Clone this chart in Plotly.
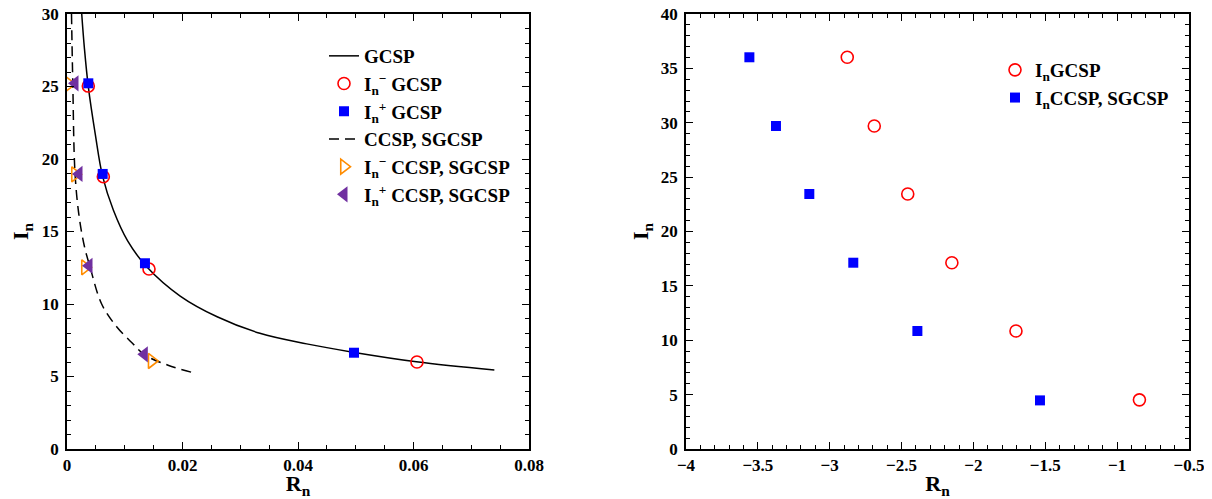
import plotly.graph_objects as go

# ---------------- data (left panel) ----------------
gcsp_curve_R = [0.00255, 0.00300, 0.00369, 0.0049, 0.00618, 0.00802, 0.0105, 0.0138,
                0.0196, 0.0260, 0.0334, 0.0415, 0.0495, 0.0605, 0.0740]
gcsp_curve_I = [30.0, 27.7, 24.99, 21.7, 18.78, 16.48, 14.35, 12.57,
                10.55, 9.12, 7.98, 7.25, 6.68, 6.02, 5.45]

ccsp_curve_R = [0.00078, 0.00100, 0.00139, 0.00208, 0.0030, 0.00398, 0.0060,
                0.0086, 0.0112, 0.0135, 0.0175, 0.0216]
ccsp_curve_I = [30.0, 25.3, 19.0, 16.1, 14.0, 12.57, 10.0,
                8.43, 7.35, 6.48, 5.78, 5.29]

In_minus_gcsp_R = [0.00369, 0.00629, 0.0142, 0.0606]
In_minus_gcsp_I = [25.03, 18.78, 12.41, 6.0]
In_plus_gcsp_R = [0.00369, 0.00618, 0.0135, 0.0497]
In_plus_gcsp_I = [25.22, 18.97, 12.81, 6.64]
In_minus_ccsp_R = [0.00035, 0.00139, 0.00312, 0.01467]
In_minus_ccsp_I = [25.17, 18.94, 12.53, 6.07]
In_plus_ccsp_R = [0.00139, 0.00208, 0.00381, 0.01339]
In_plus_ccsp_I = [25.22, 18.97, 12.64, 6.53]

# ---------------- data (right panel) ----------------
right_gcsp_R = [-2.878, -2.690, -2.457, -2.150, -1.704, -0.845]
right_gcsp_I = [36.02, 29.70, 23.45, 17.13, 10.85, 4.52]
right_ccsp_R = [-3.559, -3.374, -3.142, -2.836, -2.390, -1.537]
right_ccsp_I = [36.02, 29.70, 23.45, 17.13, 10.85, 4.47]

FONT = "Liberation Serif"
RED = "#ff0000"
BLUE = "#0000ff"
ORANGE = "#ff8c00"
PURPLE = "#7030a0"

# the page body has an 8px margin; figure is offset by it inside the 1212x499 window
OFF = 8
W, H = 1212 - OFF, 499 - OFF

fig = go.Figure()

fig.add_trace(go.Scatter(x=gcsp_curve_R, y=gcsp_curve_I, mode="lines",
                         line=dict(color="black", width=1.5, shape="spline", smoothing=1),
                         name="GCSP", legendrank=1, xaxis="x", yaxis="y"))
fig.add_trace(go.Scatter(x=ccsp_curve_R, y=ccsp_curve_I, mode="lines",
                         line=dict(color="black", width=1.5, dash="10px,6px", shape="spline", smoothing=1),
                         name="CCSP, SGCSP", legendrank=4, xaxis="x", yaxis="y"))
fig.add_trace(go.Scatter(x=In_minus_gcsp_R, y=In_minus_gcsp_I, mode="markers",
                         marker=dict(symbol="circle-open", size=12, color=RED, line=dict(width=1.6)),
                         name="I<sub>n</sub><sup>−</sup> GCSP", legendrank=2, xaxis="x", yaxis="y"))
fig.add_trace(go.Scatter(x=In_plus_gcsp_R, y=In_plus_gcsp_I, mode="markers",
                         marker=dict(symbol="square", size=10, color=BLUE),
                         name="I<sub>n</sub><sup>+</sup> GCSP", legendrank=3, xaxis="x", yaxis="y"))
fig.add_trace(go.Scatter(x=In_minus_ccsp_R, y=In_minus_ccsp_I, mode="markers",
                         marker=dict(symbol="triangle-right-open", size=13, color=ORANGE, line=dict(width=1.6)),
                         name="I<sub>n</sub><sup>−</sup> CCSP, SGCSP", legendrank=5, xaxis="x", yaxis="y"))
fig.add_trace(go.Scatter(x=In_plus_ccsp_R, y=In_plus_ccsp_I, mode="markers",
                         marker=dict(symbol="triangle-left", size=14, color=PURPLE),
                         name="I<sub>n</sub><sup>+</sup> CCSP, SGCSP", legendrank=6, xaxis="x", yaxis="y"))

fig.add_trace(go.Scatter(x=right_gcsp_R, y=right_gcsp_I, mode="markers",
                         marker=dict(symbol="circle-open", size=12, color=RED, line=dict(width=1.6)),
                         name="I<sub>n</sub>GCSP", legend="legend2", xaxis="x2", yaxis="y2"))
fig.add_trace(go.Scatter(x=right_ccsp_R, y=right_ccsp_I, mode="markers",
                         marker=dict(symbol="square", size=10, color=BLUE),
                         name="I<sub>n</sub>CCSP, SGCSP", legend="legend2", xaxis="x2", yaxis="y2"))

tickfont = dict(family=FONT, size=17, color="black", weight="bold")
titlefont = dict(family=FONT, size=22, color="black", weight="bold")

def axis_common(**kw):
    d = dict(showline=True, linecolor="black", linewidth=1.5, mirror="ticks",
             ticks="inside", ticklen=7, tickwidth=1.2, tickcolor="black",
             showgrid=False, zeroline=False, tickfont=tickfont, automargin=False,
             ticklabeloverflow="allow")
    d.update(kw)
    return d

# target screen positions (window pixels)
top_px, bot_px = 14, 449
def xd(a, b):
    return [(a - OFF) / W, (b - OFF) / W]
def ypaper(py):
    return (bot_px - py) / (bot_px - top_px)

fig.update_layout(
    width=W, height=H,
    paper_bgcolor="white", plot_bgcolor="white",
    margin=dict(l=0, r=0, t=top_px - OFF, b=H - (bot_px - OFF)),
    xaxis=axis_common(domain=xd(67, 529), range=[0, 0.08], dtick=0.02, tick0=0,
                      minor=dict(dtick=0.005, ticklen=4, ticks="inside", tickcolor="black", showgrid=False),
                      title=dict(text="R<sub>n</sub>", font=titlefont, standoff=10), anchor="y"),
    yaxis=axis_common(domain=[0, 1], range=[0, 30], dtick=5, tick0=0, ticklabelstandoff=3,
                      minor=dict(dtick=1, ticklen=4, ticks="inside", tickcolor="black", showgrid=False),
                      title=dict(text="I<sub>n</sub>", font=titlefont, standoff=15), anchor="x"),
    xaxis2=axis_common(domain=xd(686, 1189), range=[-4, -0.5], dtick=0.5, tick0=0,
                       minor=dict(dtick=0.1, ticklen=4, ticks="inside", tickcolor="black", showgrid=False),
                       title=dict(text="R<sub>n</sub>", font=titlefont, standoff=10), anchor="y2"),
    yaxis2=axis_common(domain=[0, 1], range=[0, 40], dtick=5, tick0=0, ticklabelstandoff=3,
                       minor=dict(dtick=1, ticklen=4, ticks="inside", tickcolor="black", showgrid=False),
                       title=dict(text="I<sub>n</sub>", font=titlefont, standoff=6), anchor="x2"),
    legend=dict(x=(324 - OFF) / W, y=ypaper(37), xref="paper", yref="paper", xanchor="left", yanchor="top",
                bgcolor="rgba(0,0,0,0)", font=dict(family=FONT, size=19, color="black", weight="bold"),
                tracegroupgap=0),
    legend2=dict(x=(995 - OFF) / W, y=ypaper(51), xref="paper", yref="paper", xanchor="left", yanchor="top",
                 bgcolor="rgba(0,0,0,0)", font=dict(family=FONT, size=19, color="black", weight="bold")),
)

fig.write_html("out.html")
